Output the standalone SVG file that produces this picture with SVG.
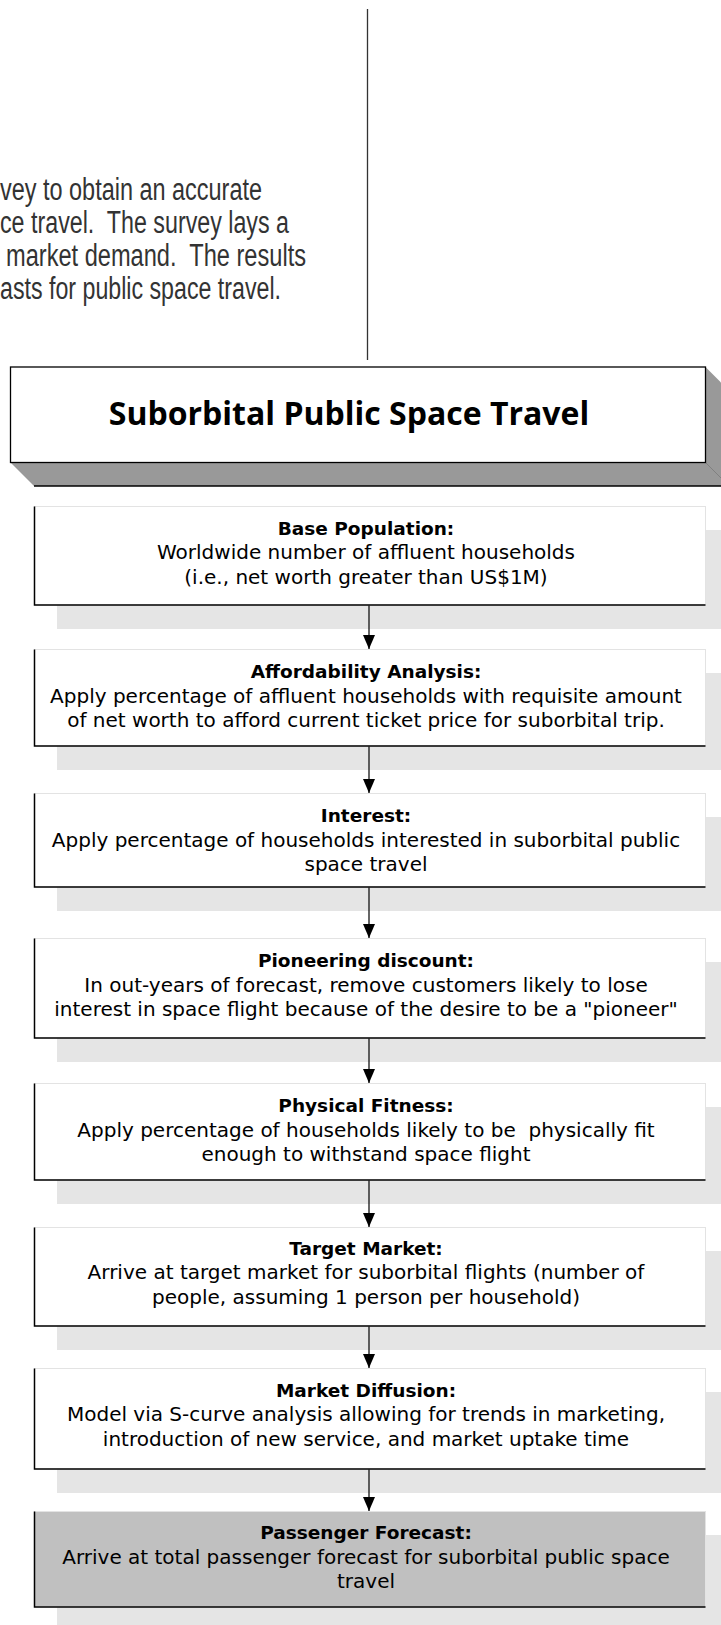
<svg xmlns="http://www.w3.org/2000/svg" width="721" height="1625" viewBox="0 0 721 1625">
<defs>
<style>
.para{font-family:"Liberation Sans Narrow","Liberation Sans",sans-serif;font-size:31px;fill:#333;white-space:pre}
.bt{font-family:"DejaVu Sans",sans-serif;font-size:18.5px;font-weight:bold;fill:#000;text-anchor:middle;white-space:pre}
.bx{font-family:"DejaVu Sans",sans-serif;font-size:20px;fill:#000;text-anchor:middle;white-space:pre}
.ttl{font-family:"Open Sans","Noto Sans",sans-serif;font-size:32px;font-weight:bold;fill:#000;text-anchor:middle}
.shadow{fill:#e5e5e5}
.box{fill:#fff;stroke:#e3e3e3;stroke-width:1}
.edge{stroke:#000;stroke-width:1.5;fill:none}
.conn{stroke:#000;stroke-width:1.2;fill:none}
</style>
<marker id="ah" markerWidth="14" markerHeight="12" refX="14" refY="6" orient="auto" markerUnits="userSpaceOnUse" viewBox="0 0 14 12">
<path d="M0,0 L14,6 L0,12 Z" fill="#000"/>
</marker>
</defs>
<rect width="721" height="1625" fill="#fff"/>

<g id="intro">
<line x1="367.5" y1="9" x2="367.5" y2="360" stroke="#333" stroke-width="1.3"/>
<text class="para" x="0" y="200" textLength="262" lengthAdjust="spacingAndGlyphs">vey to obtain an accurate</text>
<text class="para" x="0" y="233" textLength="289" lengthAdjust="spacingAndGlyphs">ce travel.  The survey lays a</text>
<text class="para" x="6" y="266" textLength="300" lengthAdjust="spacingAndGlyphs">market demand.  The results</text>
<text class="para" x="0" y="299" textLength="281" lengthAdjust="spacingAndGlyphs">asts for public space travel.</text>
</g>

<g id="title">
<polygon points="10.5,462.5 705.5,462.5 729,486 34,486" fill="#999"/>
<polygon points="705.5,367 729,390.5 729,486 705.5,462.5" fill="#999"/>
<line x1="705.5" y1="462.5" x2="729" y2="486" stroke="#808080" stroke-width="1"/>
<line x1="34" y1="486" x2="729" y2="486" stroke="#000" stroke-width="1.5"/>
<rect x="10.5" y="367" width="695" height="95.5" fill="#fff" stroke="#000" stroke-width="1.3"/>
<text class="ttl" x="349" y="425">Suborbital Public Space Travel</text>
</g>

<g id="base-population">
<rect class="shadow" x="57" y="530" width="672" height="99"/>
<rect class="box" x="34.5" y="506.5" width="671" height="98.5"/>
<path class="edge" d="M34.5,506.5 V605 H705.5"/>
<text class="bt" x="366" y="534.5">Base Population:</text>
<text class="bx" x="366" y="559">Worldwide number of affluent households</text>
<text class="bx" x="366" y="583.5">(i.e., net worth greater than US$1M)</text>
</g>

<g id="affordability">
<rect class="shadow" x="57" y="673" width="672" height="97"/>
<rect class="box" x="34.5" y="649.5" width="671" height="96.5"/>
<path class="edge" d="M34.5,649.5 V746 H705.5"/>
<text class="bt" x="366" y="678">Affordability Analysis:</text>
<text class="bx" x="366" y="702.5">Apply percentage of affluent households with requisite amount</text>
<text class="bx" x="366" y="727">of net worth to afford current ticket price for suborbital trip.</text>
</g>

<g id="interest">
<rect class="shadow" x="57" y="817" width="672" height="94"/>
<rect class="box" x="34.5" y="793.5" width="671" height="93.5"/>
<path class="edge" d="M34.5,793.5 V887 H705.5"/>
<text class="bt" x="366" y="822">Interest:</text>
<text class="bx" x="366" y="846.5">Apply percentage of households interested in suborbital public</text>
<text class="bx" x="366" y="871">space travel</text>
</g>

<g id="pioneering">
<rect class="shadow" x="57" y="962" width="672" height="100"/>
<rect class="box" x="34.5" y="938.5" width="671" height="99.5"/>
<path class="edge" d="M34.5,938.5 V1038 H705.5"/>
<text class="bt" x="366" y="967">Pioneering discount:</text>
<text class="bx" x="366" y="991.5">In out-years of forecast, remove customers likely to lose</text>
<text class="bx" x="366" y="1016">interest in space flight because of the desire to be a "pioneer"</text>
</g>

<g id="fitness">
<rect class="shadow" x="57" y="1107" width="672" height="97"/>
<rect class="box" x="34.5" y="1083.5" width="671" height="96.5"/>
<path class="edge" d="M34.5,1083.5 V1180 H705.5"/>
<text class="bt" x="366" y="1112">Physical Fitness:</text>
<text class="bx" x="366" y="1136.5">Apply percentage of households likely to be  physically fit</text>
<text class="bx" x="366" y="1161">enough to withstand space flight</text>
</g>

<g id="target-market">
<rect class="shadow" x="57" y="1251" width="672" height="99"/>
<rect class="box" x="34.5" y="1227.5" width="671" height="98.5"/>
<path class="edge" d="M34.5,1227.5 V1326 H705.5"/>
<text class="bt" x="366" y="1254.5">Target Market:</text>
<text class="bx" x="366" y="1279">Arrive at target market for suborbital flights (number of</text>
<text class="bx" x="366" y="1303.5">people, assuming 1 person per household)</text>
</g>

<g id="diffusion">
<rect class="shadow" x="57" y="1392" width="672" height="101"/>
<rect class="box" x="34.5" y="1368.5" width="671" height="100.5"/>
<path class="edge" d="M34.5,1368.5 V1469 H705.5"/>
<text class="bt" x="366" y="1396.5">Market Diffusion:</text>
<text class="bx" x="366" y="1421">Model via S-curve analysis allowing for trends in marketing,</text>
<text class="bx" x="366" y="1445.5">introduction of new service, and market uptake time</text>
</g>

<g id="passenger-forecast">
<rect class="shadow" x="57" y="1535" width="672" height="96"/>
<rect x="34.5" y="1511.5" width="671" height="95.5" fill="#c0c0c0" stroke="#e3e3e3" stroke-width="1"/>
<path class="edge" d="M34.5,1511.5 V1607 H705.5"/>
<text class="bt" x="366" y="1539">Passenger Forecast:</text>
<text class="bx" x="366" y="1563.5">Arrive at total passenger forecast for suborbital public space</text>
<text class="bx" x="366" y="1588">travel</text>
</g>

<g id="connectors">
<line class="conn" x1="369" y1="605.5" x2="369" y2="649" marker-end="url(#ah)"/>
<line class="conn" x1="369" y1="746.5" x2="369" y2="793" marker-end="url(#ah)"/>
<line class="conn" x1="369" y1="887.5" x2="369" y2="938" marker-end="url(#ah)"/>
<line class="conn" x1="369" y1="1038.5" x2="369" y2="1083" marker-end="url(#ah)"/>
<line class="conn" x1="369" y1="1180.5" x2="369" y2="1227" marker-end="url(#ah)"/>
<line class="conn" x1="369" y1="1326.5" x2="369" y2="1368" marker-end="url(#ah)"/>
<line class="conn" x1="369" y1="1469.5" x2="369" y2="1511" marker-end="url(#ah)"/>
</g>
</svg>
